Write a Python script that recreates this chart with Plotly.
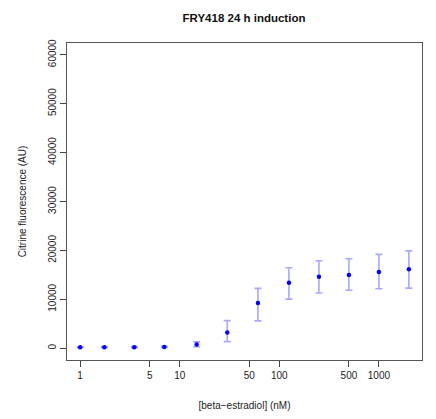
import plotly.graph_objects as go

# Data
conc_nM = [1, 1.75, 3.5, 7, 14.8, 30, 61, 125, 250, 500, 1000, 2000]
mean_fl = [200, 220, 230, 260, 750, 3200, 9250, 13400, 14600, 14950, 15600, 16150]
upper_fl = [300, 320, 330, 380, 1300, 5650, 12250, 16450, 17900, 18300, 19200, 19900]
lower_fl = [100, 120, 130, 150, 300, 1350, 5600, 10050, 11300, 11850, 12150, 12300]

x_ticks = [1, 5, 10, 50, 100, 500, 1000]
y_ticks = [0, 10000, 20000, 30000, 40000, 50000, 60000]

err_plus = [u - m for u, m in zip(upper_fl, mean_fl)]
err_minus = [m - l for m, l in zip(mean_fl, lower_fl)]

font_family = "Liberation Sans, Arial, Helvetica, sans-serif"

fig = go.Figure()
fig.add_trace(go.Scatter(
    x=conc_nM, y=mean_fl, mode="markers",
    marker=dict(color="#0000FF", size=4.5, line=dict(width=0)),
    error_y=dict(type="data", symmetric=False, array=err_plus, arrayminus=err_minus,
                 color="rgba(60,60,255,0.45)", thickness=1.6, width=3.5),
    showlegend=False,
))

# page body has an 8px margin, so the figure is 8px smaller on each side
fig.update_layout(
    width=428, height=411,
    margin=dict(l=59, r=14, t=35, b=59),
    paper_bgcolor="white", plot_bgcolor="white",
    font=dict(family=font_family, size=10, color="black"),
    title=dict(text="<b>FRY418 24 h induction</b>", x=(244 - 8) / 428, xanchor="center",
               y=1 - 10 / 411, yanchor="middle", font=dict(size=11.5, color="#111")),
)
fig.update_xaxes(
    type="log", range=[-0.132, 3.433], automargin=False,
    tickvals=x_ticks, ticktext=[str(v) for v in x_ticks],
    ticks="outside", ticklen=6, tickcolor="#444", tickwidth=1,
    showline=True, linecolor="#555", linewidth=1, mirror=True,
    showgrid=False, zeroline=False,
    tickfont=dict(size=10, color="#222"),
    title=dict(text="[beta\u2212estradiol] (nM)", font=dict(size=10, color="#222"), standoff=21),
)
fig.update_yaxes(
    range=[-2400, 62400], automargin=False,
    tickvals=y_ticks, ticktext=[str(v) for v in y_ticks],
    tickangle=-90,
    ticks="outside", ticklen=6, tickcolor="#444", tickwidth=1,
    showline=True, linecolor="#555", linewidth=1, mirror=True,
    showgrid=False, zeroline=False,
    tickfont=dict(size=10, color="#222"),
    title=dict(text="Citrine fluorescence (AU)", font=dict(size=10, color="#222"), standoff=18),
)

fig.write_html("out.html")
